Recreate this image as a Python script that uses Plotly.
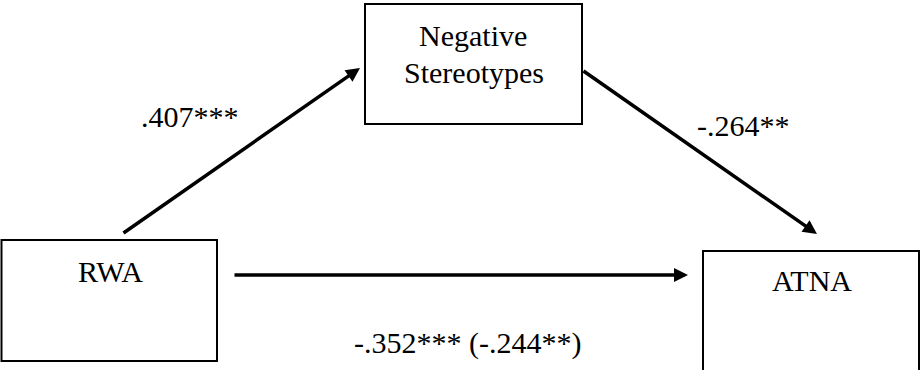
import plotly.graph_objects as go

# Mediation model: nodes and path coefficients
node_labels = ["RWA", "Negative\nStereotypes", "ATNA"]
path_a = ".407***"
path_b = "-.264**"
path_c = "-.352*** (-.244**)"

FONT = dict(family="Liberation Serif, Times New Roman, serif", size=30, color="black")

# Layout geometry in pixel-like data units (y grows downward)
boxes = {
    "RWA": (1.5, 240, 217, 361),
    "MED": (365, 4, 582, 124),
    "ATNA": (703, 251, 919, 371),
}

fig = go.Figure()

shapes = []
for x0, y0, x1, y1 in boxes.values():
    shapes.append(dict(type="rect", xref="x", yref="y", x0=x0, y0=y0, x1=x1, y1=y1,
                       line=dict(color="black", width=2), fillcolor="rgba(0,0,0,0)"))

annotations = []

def label(text, x, y):
    annotations.append(dict(text=text, x=x, y=y, xref="x", yref="y",
                            xanchor="center", yanchor="middle", showarrow=False,
                            font=FONT))

def arrow(tail, tip):
    annotations.append(dict(text="", x=tip[0], y=tip[1], ax=tail[0], ay=tail[1],
                            xref="x", yref="y", axref="x", ayref="y",
                            showarrow=True, arrowhead=2, arrowsize=0.8,
                            arrowwidth=3.5, arrowcolor="black", standoff=0,
                            startstandoff=0))

mediator_lines = node_labels[1].split("\n")
label(node_labels[0], 110, 271)
label(mediator_lines[0], 473, 35)
label(mediator_lines[1], 474, 72)
label(node_labels[2], 812, 280)

arrow((122, 234), (360, 68))
arrow((582, 70), (817, 234))
arrow((233, 275), (688, 275))

label(path_a, 190, 116)
label(path_b, 743, 125)
label(path_c, 467, 343)

fig.update_layout(
    width=920, height=370,
    margin=dict(l=0, r=0, t=0, b=0),
    paper_bgcolor="white", plot_bgcolor="white",
    xaxis=dict(range=[0, 920], visible=False, fixedrange=True),
    yaxis=dict(range=[370, 0], visible=False, fixedrange=True),
    shapes=shapes, annotations=annotations,
    showlegend=False,
)

fig.write_html("out.html")
